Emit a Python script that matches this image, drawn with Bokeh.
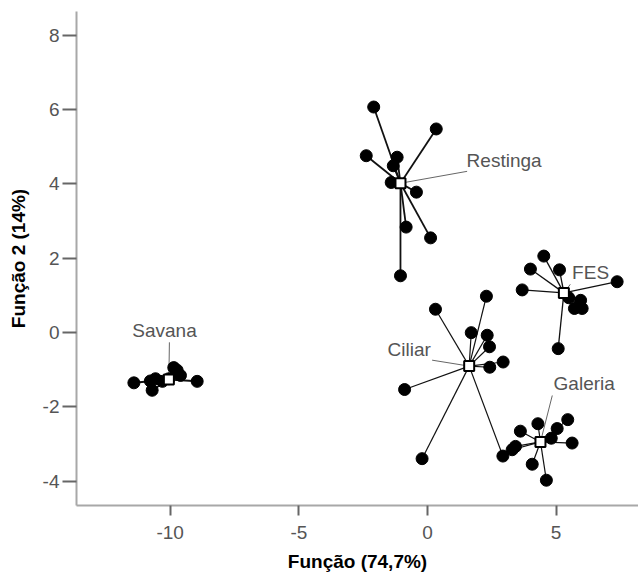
from bokeh.plotting import figure
from bokeh.models import FixedTicker, Range1d
from bokeh.core.properties import value
from bokeh.embed import file_html
from bokeh.resources import INLINE

# ---- data ----
x_ticks = [-10, -5, 0, 5]
y_ticks = [-4, -2, 0, 2, 4, 6, 8]
x_tick_labels = {-10: "-10", -5: "-5", 0: "0", 5: "5"}
y_tick_labels = {-4: "-4", -2: "-2", 0: "0", 2: "2", 4: "4", 6: "6", 8: "8"}
x_title = "Função (74,7%)"
y_title = "Função 2 (14%)"

groups = ["Restinga", "FES", "Ciliar", "Galeria", "Savana"]

restinga_x = [-2.09, 0.34, -2.38, -1.18, -1.33, -1.41, -0.43, -0.83, 0.12, -1.05]
restinga_y = [6.07, 5.48, 4.76, 4.72, 4.49, 4.04, 3.78, 2.84, 2.55, 1.53]

fes_x = [4.52, 4.00, 5.13, 3.68, 7.37, 5.49, 5.95, 5.71, 6.01, 5.08]
fes_y = [2.06, 1.71, 1.69, 1.15, 1.37, 0.94, 0.87, 0.65, 0.65, -0.43]

ciliar_x = [2.29, 0.31, 1.70, 2.32, 2.41, 2.94, 2.42, -0.89, -0.21, 2.93]
ciliar_y = [0.98, 0.63, 0.00, -0.07, -0.38, -0.79, -0.93, -1.53, -3.39, -3.32]

galeria_x = [5.45, 4.29, 5.04, 3.61, 4.81, 5.62, 3.42, 3.29, 4.07, 4.62]
galeria_y = [-2.34, -2.45, -2.58, -2.65, -2.84, -2.97, -3.06, -3.15, -3.54, -3.97]

savana_x = [-11.41, -10.70, -10.77, -10.57, -9.86, -9.73, -9.60, -10.05, -8.95, -10.30]
savana_y = [-1.35, -1.55, -1.30, -1.24, -0.94, -1.01, -1.15, -1.24, -1.31, -1.31]

centroid_x = [-1.05, 5.30, 1.62, 4.39, -10.05]
centroid_y = [4.02, 1.07, -0.90, -2.94, -1.26]

# label anchor (text) and leader-line start for each group
label_x = [1.52, 5.62, -1.55, 4.90, -10.22]
label_y = [4.64, 1.62, -0.45, -1.36, 0.06]
leader_x = [1.54, 5.55, 0.18, 4.85, -10.03]
leader_y = [4.34, 1.30, -0.74, -1.69, -0.26]
label_align = ["left", "left", "left", "left", "center"]

members_x = [restinga_x, fes_x, ciliar_x, galeria_x, savana_x]
members_y = [restinga_y, fes_y, ciliar_y, galeria_y, savana_y]
line_widths = [1.8, 1.3, 1.2, 1.2, 2.0]

FONT = "Liberation Sans"
FS = "19px"

p = figure(width=638, height=574, output_backend="svg", toolbar_location=None,
           x_range=Range1d(-13.64, 8.2), y_range=Range1d(-4.65, 8.64),
           min_border_left=76, min_border_right=0, min_border_top=11,
           min_border_bottom=69)
p.outline_line_color = None
p.grid.visible = False
p.background_fill_color = "white"

# leader lines from centroids to labels
for i, g in enumerate(groups):
    p.segment(x0=[leader_x[i]], y0=[leader_y[i]], x1=[centroid_x[i]], y1=[centroid_y[i]],
              line_color="#666666", line_width=1)

# spokes
for i, g in enumerate(groups):
    xs = members_x[i]
    ys = members_y[i]
    p.segment(x0=xs, y0=ys, x1=[centroid_x[i]] * len(xs), y1=[centroid_y[i]] * len(ys),
              line_color="#111111", line_width=line_widths[i])

# member points
for i, g in enumerate(groups):
    p.scatter(x=members_x[i], y=members_y[i], marker="circle", size=12,
              fill_color="black", line_color="black")

# centroids
p.scatter(x=centroid_x, y=centroid_y, marker="square", size=10,
          fill_color="white", line_color="black", line_width=2)

# group labels
for i, g in enumerate(groups):
    p.text(x=[label_x[i]], y=[label_y[i]], text=[g], text_font=value(FONT),
           text_font_size=value(FS), text_color="#555555",
           text_align=label_align[i], text_baseline="middle")

# axes
p.xaxis.ticker = FixedTicker(ticks=x_ticks)
p.yaxis.ticker = FixedTicker(ticks=y_ticks)
p.xaxis.major_label_overrides = x_tick_labels
p.yaxis.major_label_overrides = y_tick_labels
p.xaxis.axis_label = x_title
p.yaxis.axis_label = y_title
for ax, tick_out, standoff, lab_standoff in ((p.xaxis, 10, 10, 9), (p.yaxis, 14, 3, 11)):
    ax.axis_line_color = "#a8a8a8"
    ax.axis_line_width = 2
    ax.major_tick_line_color = "#666666"
    ax.major_tick_line_width = 2
    ax.major_tick_out = tick_out
    ax.major_tick_in = 0
    ax.minor_tick_line_color = None
    ax.major_label_text_font = FONT
    ax.major_label_text_font_size = FS
    ax.major_label_text_color = "#555555"
    ax.major_label_standoff = standoff
    ax.axis_label_text_font = FONT
    ax.axis_label_text_font_size = FS
    ax.axis_label_text_font_style = "bold"
    ax.axis_label_text_color = "black"
    ax.axis_label_standoff = lab_standoff

open("out.html", "w").write(file_html(p, INLINE))
